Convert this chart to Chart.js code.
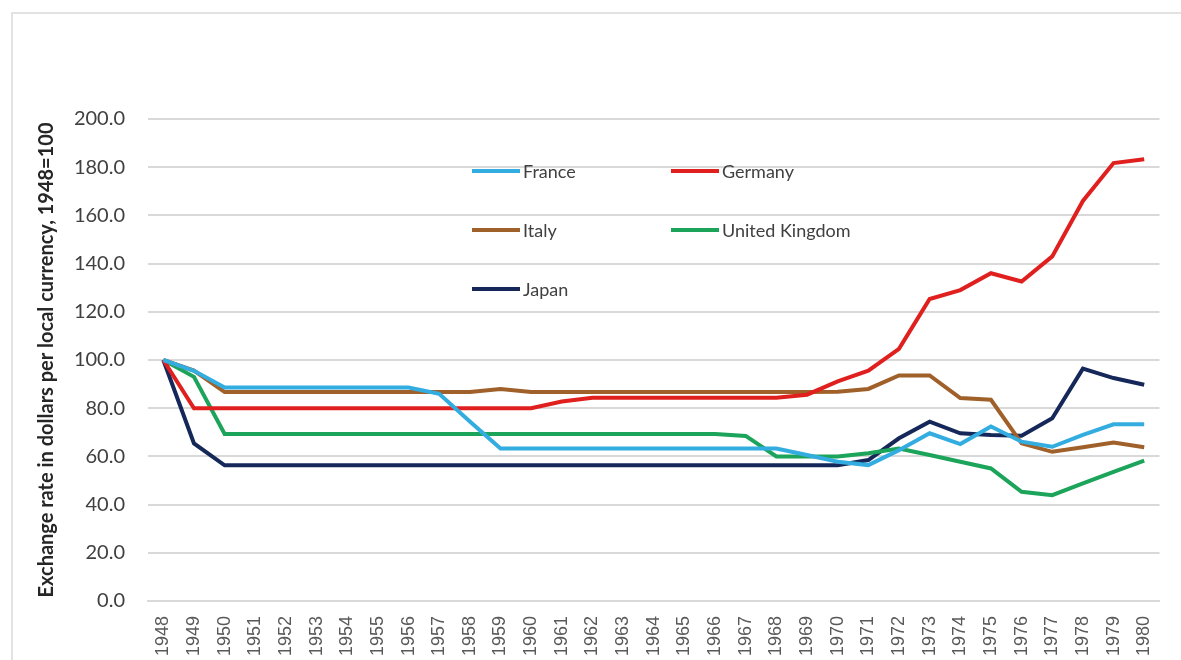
<!DOCTYPE html>
<html>
<head>
<meta charset="utf-8">
<title>Exchange rates 1948-1980</title>
<script src="https://cdn.jsdelivr.net/npm/chart.js@4.4.0/dist/chart.umd.min.js"></script>
<style>
	html, body { margin: 0; padding: 0; background: #fff; }
	#wrap { position: relative; width: 1181px; height: 660px; }
</style>
</head>
<body>
<div id="wrap"><canvas id="rateChart"></canvas></div>
<script>
// 年份 (x軸)
const years = ['1948', '1949', '1950', '1951', '1952', '1953', '1954', '1955', '1956', '1957', '1958',
	'1959', '1960', '1961', '1962', '1963', '1964', '1965', '1966', '1967', '1968', '1969',
	'1970', '1971', '1972', '1973', '1974', '1975', '1976', '1977', '1978', '1979', '1980'];

// 各國匯率, 1948=100
const france = [100, 95.5, 88.6, 88.6, 88.6, 88.6, 88.6, 88.6, 88.6, 86, 74.5,
	63.3, 63.3, 63.3, 63.3, 63.3, 63.3, 63.3, 63.3, 63.3, 63.3, 60.6,
	57.8, 56.4, 62.6, 69.6, 65.1, 72.4, 66.1, 64, 68.9, 73.3, 73.3];
const germany = [100, 80, 80, 80, 80, 80, 80, 80, 80, 80, 80,
	80, 80, 82.8, 84.3, 84.3, 84.3, 84.3, 84.3, 84.3, 84.3, 85.6,
	91.1, 95.6, 104.6, 125.3, 129, 136, 132.6, 143, 166, 181.7, 183.3];
const italy = [100, 95.6, 86.7, 86.7, 86.7, 86.7, 86.7, 86.7, 86.7, 86.7, 86.7,
	88, 86.7, 86.7, 86.7, 86.7, 86.7, 86.7, 86.7, 86.7, 86.7, 86.7,
	86.8, 88, 93.6, 93.6, 84.2, 83.5, 65.4, 61.9, 63.8, 65.8, 63.8];
const uk = [100, 93, 69.3, 69.3, 69.3, 69.3, 69.3, 69.3, 69.3, 69.3, 69.3,
	69.3, 69.3, 69.3, 69.3, 69.3, 69.3, 69.3, 69.3, 68.5, 60, 60,
	60, 61.3, 63.3, 60.6, 57.8, 55, 45.3, 43.9, 48.8, 53.6, 58.2];
const japan = [100, 65.4, 56.3, 56.3, 56.3, 56.3, 56.3, 56.3, 56.3, 56.3, 56.3,
	56.3, 56.3, 56.3, 56.3, 56.3, 56.3, 56.3, 56.3, 56.3, 56.3, 56.3,
	56.3, 58.5, 67.5, 74.4, 69.6, 68.9, 68.6, 75.8, 96.4, 92.5, 89.7];

// y軸刻度
const yTickValues = [0, 20, 40, 60, 80, 100, 120, 140, 160, 180, 200];

const seriesNames = ['France', 'Germany', 'Italy', 'United Kingdom', 'Japan'];
const seriesColors = ['#33ade0', '#e0201e', '#a0602a', '#1ba45a', '#16285a'];
const seriesData = [france, germany, italy, uk, japan];

// 圖例位置 (圖內兩欄)
const legendSpots = [[472, 171], [671, 171], [472, 230], [671, 230], [472, 289]];

const datasets = [];
for (let i = 0; i < seriesNames.length; i++) {
	datasets.push({
		label: seriesNames[i],
		data: seriesData[i],
		borderColor: seriesColors[i],
		backgroundColor: seriesColors[i],
		borderWidth: 4,
		pointRadius: 0,
		tension: 0,
		fill: false
	});
}

// 外框
const framePlugin = {
	id: 'frame',
	beforeDraw(chart) {
		const ctx = chart.ctx;
		ctx.save();
		ctx.strokeStyle = '#e2e2e2';
		ctx.lineWidth = 2;
		ctx.strokeRect(12, 13, 1400, 1000);
		ctx.restore();
	}
};

// 自畫圖例
const legendPlugin = {
	id: 'insideLegend',
	afterDraw(chart) {
		const ctx = chart.ctx;
		ctx.save();
		chart.data.datasets.forEach(function(ds, i) {
			const p = legendSpots[i];
			ctx.strokeStyle = ds.borderColor;
			ctx.lineWidth = 4;
			ctx.beginPath();
			ctx.moveTo(p[0], p[1]);
			ctx.lineTo(p[0] + 48, p[1]);
			ctx.stroke();
			ctx.fillStyle = '#404040';
			ctx.font = '18px Lato';
			ctx.textBaseline = 'middle';
			ctx.textAlign = 'left';
			ctx.fillText(ds.label, p[0] + 51, p[1] + 1);
		});
		ctx.restore();
	}
};

new Chart(document.getElementById('rateChart'), {
	type: 'line',
	data: {
		labels: years,
		datasets: datasets
	},
	options: {
		responsive: true,
		maintainAspectRatio: false,
		animation: false,
		layout: {
			padding: { top: 119, right: 13, left: 0, bottom: 0 }
		},
		plugins: {
			legend: { display: false },
			tooltip: { enabled: false }
		},
		scales: {
			x: {
				offset: true,
				grid: { display: false, drawTicks: false },
				border: { display: true, color: '#d9d9d9', width: 2 },
				ticks: {
					minRotation: 90,
					maxRotation: 90,
					autoSkip: false,
					padding: 15,
					color: '#595959',
					font: { family: 'Liberation Sans', size: 18 }
				},
				afterFit(scale) { scale.height = 59; }
			},
			y: {
				min: 0,
				max: 200,
				afterBuildTicks(scale) {
					scale.ticks = yTickValues.map(v => ({ value: v }));
				},
				grid: { color: '#d9d9d9', lineWidth: 2, drawTicks: false },
				border: { display: false },
				ticks: {
					padding: 23,
					color: '#404040',
					font: { family: 'Lato', size: 20 },
					callback: v => Number(v).toFixed(1)
				},
				title: {
					display: true,
					text: 'Exchange rate in dollars per local currency, 1948=100',
					color: '#262626',
					font: { family: 'Lato', size: 20, weight: 'bold' },
					padding: { top: 35, bottom: 0 }
				},
				afterFit(scale) { scale.width = 148; }
			}
		}
	},
	plugins: [framePlugin, legendPlugin]
});
</script>
</body>
</html>
